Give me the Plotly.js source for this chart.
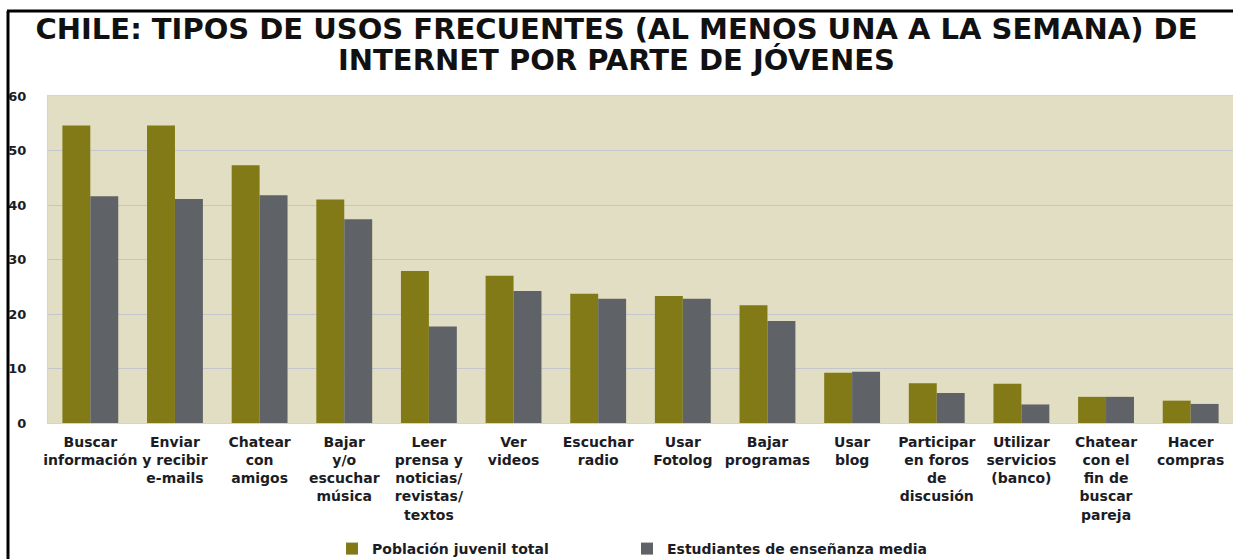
<!DOCTYPE html>
<html>
<head>
<meta charset="utf-8">
<script src="https://cdn.plot.ly/plotly-3.0.1.min.js"></script>
<style>
html,body{margin:0;padding:0;background:#fff;}
#chart{width:1233px;height:559px;}
</style>
</head>
<body>
<div id="chart"></div>
<script>
const categories = [
  "Buscar<br>información",
  "Enviar<br>y recibir<br>e-mails",
  "Chatear<br>con<br>amigos",
  "Bajar<br>y/o<br>escuchar<br>música",
  "Leer<br>prensa y<br>noticias/<br>revistas/<br>textos",
  "Ver<br>videos",
  "Escuchar<br>radio",
  "Usar<br>Fotolog",
  "Bajar<br>programas",
  "Usar<br>blog",
  "Participar<br>en foros<br>de<br>discusión",
  "Utilizar<br>servicios<br>(banco)",
  "Chatear<br>con el<br>fin de<br>buscar<br>pareja",
  "Hacer<br>compras"
];
const poblacionJuvenil = [54.6, 54.6, 47.3, 41.0, 27.9, 27.0, 23.7, 23.3, 21.6, 9.2, 7.3, 7.2, 4.8, 4.1];
const estudiantesMedia = [41.6, 41.1, 41.8, 37.4, 17.7, 24.2, 22.8, 22.8, 18.7, 9.4, 5.5, 3.4, 4.8, 3.5];
const seriesNames = ["Población juvenil total", "Estudiantes de enseñanza media"];
const titleLines = ["CHILE: TIPOS DE USOS FRECUENTES (AL MENOS UNA A LA SEMANA) DE", "INTERNET POR PARTE DE JÓVENES"];
const yTicks = [0, 10, 20, 30, 40, 50, 60];

const W = 1233, H = 559, ML = 48, MR = 0, MT = 96, MB = 136;
const PW = W - ML - MR, PH = H - MT - MB;
const px = x => (x - ML) / PW;
const py = y => (H - MB - y) / PH;

const font = "DejaVu Sans, Liberation Sans, Arial, sans-serif";
const titleFont = {family: font, size: 29, color: "#111111", weight: "bold"};
const legendFont = {family: font, size: 14, color: "#1c1c24", weight: "bold"};
const traces = [
  {type: "bar", name: seriesNames[0], x: categories, y: poblacionJuvenil,
   marker: {color: "#817a16"}, hoverinfo: "skip", legend: "legend"},
  {type: "bar", name: seriesNames[1], x: categories, y: estudiantesMedia,
   marker: {color: "#5f6266"}, hoverinfo: "skip", legend: "legend2"}
];

const layout = {
  width: W, height: H,
  margin: {l: ML, r: MR, t: MT, b: MB, pad: 0},
  paper_bgcolor: "#ffffff",
  plot_bgcolor: "#e2dec3",
  barmode: "group",
  bargap: 0.34,
  bargroupgap: 0,
  showlegend: true,
  title: {
    text: titleLines[0],
    font: titleFont,
    x: 0.5, xref: "container", xanchor: "center",
    y: 1 - 28.5 / H, yref: "container", yanchor: "middle"
  },
  annotations: [
    {text: titleLines[1], font: titleFont, showarrow: false,
     xref: "paper", yref: "paper", x: px(616.5), xanchor: "center",
     y: py(59.5), yanchor: "middle"}
  ],
  xaxis: {
    type: "category",
    tickfont: {family: font, size: 14, color: "#1c1c24", weight: "bold"},
    tickangle: 0,
    showgrid: false,
    showline: true, linecolor: "#d4d4d4", linewidth: 1, mirror: true,
    ticks: "", ticklabelstandoff: 6,
    fixedrange: true
  },
  yaxis: {
    range: [0, 60],
    tickvals: yTicks,
    ticktext: yTicks.map(String),
    tickfont: {family: font, size: 13, color: "#1c1c24", weight: "bold"},
    showgrid: true, gridcolor: "#c3c6cc", gridwidth: 1,
    zeroline: false,
    showline: true, linecolor: "#d4d4d4", linewidth: 1, mirror: true,
    ticks: "", ticklabelstandoff: 18,
    fixedrange: true
  },
  legend: {
    orientation: "h",
    xref: "container", yref: "container",
    x: 332 / W, xanchor: "left",
    y: (H - 549) / H, yanchor: "middle",
    font: legendFont,
    bgcolor: "rgba(0,0,0,0)"
  },
  legend2: {
    orientation: "h",
    xref: "container", yref: "container",
    x: 627 / W, xanchor: "left",
    y: (H - 549) / H, yanchor: "middle",
    font: legendFont,
    bgcolor: "rgba(0,0,0,0)"
  },
  shapes: [
    {type: "line", xref: "paper", yref: "paper", x0: px(8), x1: px(8), y0: py(11), y1: py(H + 5),
     line: {color: "#000000", width: 3}},
    {type: "line", xref: "paper", yref: "paper", x0: px(7), x1: px(W + 5), y0: py(11), y1: py(11),
     line: {color: "#000000", width: 3}}
  ]
};

Plotly.newPlot("chart", traces, layout, {staticPlot: true, displayModeBar: false});
</script>
</body>
</html>
